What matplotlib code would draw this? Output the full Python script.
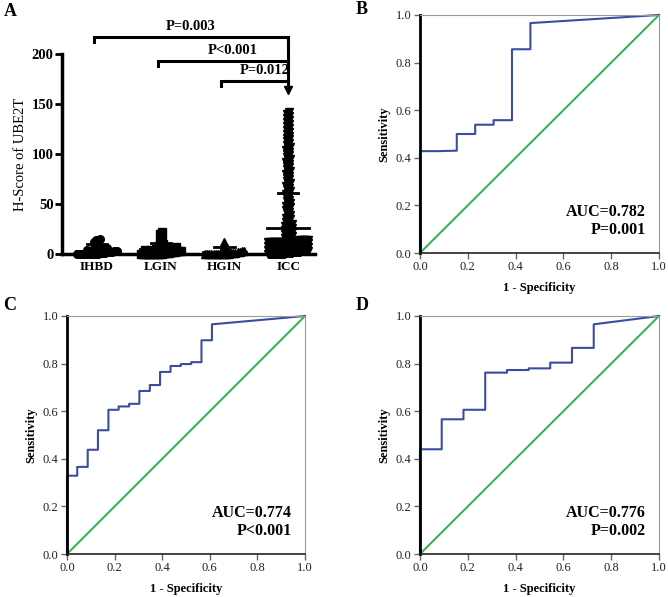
import numpy as np
import matplotlib
matplotlib.use('Agg')
import matplotlib.pyplot as plt

plt.rcParams['font.family'] = 'Liberation Serif'

# panel A data (H-score per group, value/count pairs)
groups = ['IHBD', 'LGIN', 'HGIN', 'ICC']
ihbd_vals = [0, 1, 2, 3, 4, 5, 6, 8, 10, 12, 14, 15]
ihbd_counts = [10, 3, 3, 2, 2, 2, 1, 1, 1, 1, 2, 1]
lgin_vals = [0, 1, 2, 3, 4, 5, 6, 7, 8, 10, 12, 14, 16, 20, 22]
lgin_counts = [12, 4, 3, 3, 2, 2, 2, 1, 2, 1, 1, 1, 1, 1, 1]
hgin_vals = [0, 1, 2, 3, 4, 5, 6, 8, 12]
hgin_counts = [12, 3, 2, 2, 1, 1, 1, 1, 1]
icc_vals = [0, 1, 2, 3, 4, 5, 6, 7, 8, 9, 10, 11, 12, 13, 14, 16, 18, 20, 22, 24, 26, 28, 30]
icc_counts = [30, 14, 14, 14, 14, 14, 14, 12, 12, 12, 12, 12, 10, 8, 6, 2, 2, 2, 2, 2, 2, 2, 2]
icc_high = [32, 33, 35, 36, 38, 39, 41, 42, 44, 45, 47, 48, 50, 51, 53, 54, 56, 58, 60,
            61, 63, 65, 66, 68, 70, 71, 73, 75, 76, 78, 80, 82, 83, 85, 87, 88, 90, 92,
            94, 95, 97, 99, 100, 102, 104, 106, 107, 109, 111, 113, 115, 116, 118, 120,
            122, 124, 126, 128, 130, 132, 134, 136, 138, 140, 142, 164]
group_means = [3.3, 4.7, 2.3, 26.0]
group_sd = [6.5, 6.0, 4.4, 35.0]
markers = ['o', 's', '^', 'v']

comparisons = [('P=0.003', 0, 217), ('P<0.001', 1, 193), ('P=0.012', 2, 173)]

# ROC curves (1 - specificity, sensitivity)
roc_b_x = [0, 0, 0.077, 0.154, 0.154, 0.231, 0.231, 0.308, 0.308, 0.385, 0.385, 0.462, 0.462, 1.0]
roc_b_y = [0, 0.428, 0.428, 0.430, 0.500, 0.500, 0.539, 0.539, 0.558, 0.558, 0.856, 0.856, 0.966, 1.0]
roc_c_x = [0, 0, 0.043, 0.043, 0.087, 0.087, 0.130, 0.130, 0.174, 0.174, 0.217, 0.217, 0.261, 0.261,
           0.304, 0.304, 0.348, 0.348, 0.391, 0.391, 0.435, 0.435, 0.478, 0.478, 0.522, 0.522,
           0.565, 0.565, 0.609, 0.609, 1.0]
roc_c_y = [0, 0.329, 0.329, 0.366, 0.366, 0.438, 0.438, 0.520, 0.520, 0.606, 0.606, 0.620, 0.620, 0.631,
           0.631, 0.685, 0.685, 0.710, 0.710, 0.765, 0.765, 0.790, 0.790, 0.798, 0.798, 0.806,
           0.806, 0.898, 0.898, 0.965, 1.0]
roc_d_x = [0, 0, 0.091, 0.091, 0.182, 0.182, 0.273, 0.273, 0.364, 0.364, 0.455, 0.455,
           0.545, 0.545, 0.636, 0.636, 0.727, 0.727, 1.0]
roc_d_y = [0, 0.440, 0.440, 0.566, 0.566, 0.606, 0.606, 0.762, 0.762, 0.773, 0.773, 0.780,
           0.780, 0.804, 0.804, 0.866, 0.866, 0.965, 1.0]
roc_labels = [('AUC=0.782', 'P=0.001'), ('AUC=0.774', 'P<0.001'), ('AUC=0.776', 'P=0.002')]


def swarm(vals, center, bin_h=4.0, dx=0.08, max_half=0.31):
    vals = np.sort(np.asarray(vals, dtype=float))
    xs = np.zeros_like(vals)
    bins = np.floor(vals / bin_h)
    for b in np.unique(bins):
        idx = np.where(bins == b)[0]
        n = len(idx)
        if n == 1:
            continue
        # sparse bins stay in a narrow column, crowded ones fan out
        d = dx if n > 4 else 0.035
        step = min(d, 2 * max_half / (n - 1))
        xs[idx] = (np.arange(n) - (n - 1) / 2) * step
    return center + xs, vals


fig = plt.figure(figsize=(6.68, 5.97), dpi=100)

# ---------------- panel A
axA = fig.add_axes([0.0928, 0.5745, 0.3787, 0.335])
all_groups = [np.repeat(ihbd_vals, ihbd_counts), np.repeat(lgin_vals, lgin_counts),
              np.repeat(hgin_vals, hgin_counts),
              np.concatenate([np.repeat(icc_vals, icc_counts), icc_high])]
for i, vals in enumerate(all_groups):
    x, y = swarm(vals, i)
    axA.plot(x, y, linestyle='none', marker=markers[i], color='black', markersize=5.5,
             clip_on=False, zorder=3)
    m, s = group_means[i], group_sd[i]
    axA.plot([i - 0.33, i + 0.33], [m, m], color='black', lw=2, zorder=4)
    axA.plot([i - 0.16, i + 0.16], [m + s, m + s], color='black', lw=2, zorder=4)
    axA.plot([i, i], [max(m - s, 0), m + s], color='black', lw=2, zorder=4)

axA.set_xlim(-0.55, 3.42)
axA.set_ylim(0, 200)
axA.set_yticks([0, 50, 100, 150, 200])
axA.set_xticks(range(4))
axA.set_xticklabels(groups, fontweight='bold', fontsize=9.5)
for lab in axA.get_yticklabels():
    lab.set_fontweight('bold')
    lab.set_fontsize(10.5)
axA.tick_params(axis='y', direction='out', length=5, width=2, pad=1)
axA.tick_params(axis='x', length=0, pad=5)
axA.spines['top'].set_visible(False)
axA.spines['right'].set_visible(False)
axA.spines['left'].set_linewidth(2.5)
axA.spines['bottom'].set_linewidth(2.5)
axA.set_ylabel('H-Score of UBE2T', fontsize=10.5, labelpad=3)

for label, g, yb in comparisons:
    axA.plot([g - 0.05, g - 0.05, 3, 3], [yb - 5, yb, yb, yb - 5], color='black', lw=2.2,
             clip_on=False, solid_joinstyle='miter')
    axA.text((g - 0.05 + 3) / 2 + (0.15 if g > 0 else 0), yb + 4, label, ha='center', va='bottom',
             fontweight='bold', fontsize=10.5)
axA.plot([3, 3], [168, 217], color='black', lw=2.2, clip_on=False)

# ---------------- ROC panels
roc_pos = [[0.6287, 0.5762, 0.3578, 0.3987],
           [0.1003, 0.0720, 0.3563, 0.3987],
           [0.6287, 0.0720, 0.3578, 0.3987]]
roc_data = [(roc_b_x, roc_b_y), (roc_c_x, roc_c_y), (roc_d_x, roc_d_y)]
for pos, (rx, ry), (auc, pv) in zip(roc_pos, roc_data, roc_labels):
    ax = fig.add_axes(pos)
    ax.plot([0, 1], [0, 1], color='#2db34a', lw=1.4, clip_on=False)
    ax.plot(rx, ry, color='#3a4ea0', lw=1.5, clip_on=False)
    ax.set_xlim(0, 1)
    ax.set_ylim(0, 1)
    ticks = [0, 0.2, 0.4, 0.6, 0.8, 1.0]
    ax.set_xticks(ticks)
    ax.set_yticks(ticks)
    ax.set_xticklabels(['%.1f' % t for t in ticks])
    ax.set_yticklabels(['%.1f' % t for t in ticks])
    ax.tick_params(direction='out', length=4, width=1, color='#666666', labelsize=9,
                   labelcolor='#222222', pad=2)
    ax.spines['left'].set_linewidth(2)
    ax.spines['left'].set_color('black')
    ax.spines['bottom'].set_color('#222222')
    ax.spines['bottom'].set_linewidth(1.2)
    ax.spines['top'].set_color('#9a9a9a')
    ax.spines['right'].set_color('#9a9a9a')
    ax.set_xlabel('1 - Specificity', fontweight='bold', fontsize=9, labelpad=6)
    ax.set_ylabel('Sensitivity', fontweight='bold', fontsize=9, labelpad=4)
    ax.text(0.946, 0.172, auc, transform=ax.transAxes, ha='right', va='center',
            fontweight='bold', fontsize=11.5)
    ax.text(0.946, 0.097, pv, transform=ax.transAxes, ha='right', va='center',
            fontweight='bold', fontsize=11.5)

# panel letters
for letter, px, py in [('A', 4, 12), ('B', 356, 10), ('C', 3, 305), ('D', 356, 305)]:
    fig.text(px / 668, 1 - py / 597, letter, ha='left', va='center', fontweight='bold',
             fontsize=13)

fig.savefig('out.png', dpi=100)
